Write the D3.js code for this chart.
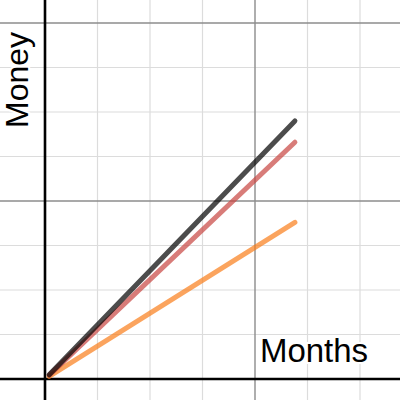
<!DOCTYPE html>
<html>
<head>
<meta charset="utf-8">
<script src="https://cdn.jsdelivr.net/npm/d3@7"></script>
<style>
  html, body { margin: 0; padding: 0; background: #fff; }
  svg { display: block; }
</style>
</head>
<body>
<div id="chart"></div>
<script>
// grid steps, in axis units (months across, money up)
const minorStep = 2.5;
const majorStep = 10;

// series: [month, money] start and end points
const blackLine = [[0.2, 0.24], [11.9, 14.5]];
const redLine = [[0.2, 0.22], [11.9, 13.3]];
const orangeLine = [[0.2, 0.15], [11.9, 8.8]];

const seriesColors = ['#000000', '#c74440', '#fa7e19'];
const xLabel = 'Months';
const yLabel = 'Money';

const width = 400;
const height = 400;

const x = d3.scaleLinear().domain([0, 10]).range([45, 255]);
const y = d3.scaleLinear().domain([0, 10]).range([379, 201]);

const svg = d3.select('#chart').append('svg')
  .attr('width', width)
  .attr('height', height);

const xTicks = d3.range(-2.5, 20, minorStep);
const yTicks = d3.range(-2.5, 25, minorStep);
let isMajor = function(v) {
  return v !== 0 && Math.abs(v % majorStep) < 1e-9;
};

// minor grid
let grid = svg.append('g').attr('class', 'grid');
grid.selectAll('line.vx')
  .data(xTicks.filter(function(v) { return v !== 0 && !isMajor(v); }))
  .enter().append('line')
  .attr('class', 'vx')
  .attr('x1', function(d) { return x(d); })
  .attr('x2', function(d) { return x(d); })
  .attr('y1', 0).attr('y2', height)
  .style('stroke', '#dcdcdc').style('stroke-width', 1.2);
grid.selectAll('line.hy')
  .data(yTicks.filter(function(v) { return v !== 0 && !isMajor(v); }))
  .enter().append('line')
  .attr('class', 'hy')
  .attr('y1', function(d) { return y(d); })
  .attr('y2', function(d) { return y(d); })
  .attr('x1', 0).attr('x2', width)
  .style('stroke', '#dcdcdc').style('stroke-width', 1.2);

// major grid
grid.selectAll('line.mx')
  .data(xTicks.filter(isMajor))
  .enter().append('line')
  .attr('class', 'mx')
  .attr('x1', function(d) { return x(d); })
  .attr('x2', function(d) { return x(d); })
  .attr('y1', 0).attr('y2', height)
  .style('stroke', '#8c8c8c').style('stroke-width', 1.4);
grid.selectAll('line.my')
  .data(yTicks.filter(isMajor))
  .enter().append('line')
  .attr('class', 'my')
  .attr('y1', function(d) { return y(d); })
  .attr('y2', function(d) { return y(d); })
  .attr('x1', 0).attr('x2', width)
  .style('stroke', '#8c8c8c').style('stroke-width', 1.4);

// axes
svg.append('line')
  .attr('x1', x(0)).attr('x2', x(0))
  .attr('y1', 0).attr('y2', height)
  .style('stroke', '#000').style('stroke-width', 2.6);
svg.append('line')
  .attr('x1', 0).attr('x2', width)
  .attr('y1', y(0)).attr('y2', y(0))
  .style('stroke', '#000').style('stroke-width', 2.6);

// series lines
const line = d3.line()
  .x(function(d) { return x(d[0]); })
  .y(function(d) { return y(d[1]); });

svg.selectAll('path.series')
  .data([orangeLine, redLine, blackLine])
  .enter().append('path')
  .attr('class', 'series')
  .attr('d', line)
  .style('fill', 'none')
  .style('stroke', function(d, i) { return [seriesColors[2], seriesColors[1], seriesColors[0]][i]; })
  .style('stroke-opacity', 0.7)
  .style('stroke-width', 5)
  .style('stroke-linecap', 'round');

// labels
svg.append('text')
  .attr('x', 314)
  .attr('y', 362)
  .attr('text-anchor', 'middle')
  .style('font-family', 'Liberation Sans, Arial, sans-serif')
  .style('font-size', '33px')
  .style('fill', '#000')
  .style('stroke', '#fff').style('stroke-width', 4)
  .style('paint-order', 'stroke')
  .text(xLabel);

svg.append('text')
  .attr('transform', 'translate(28,80) rotate(-90)')
  .attr('text-anchor', 'middle')
  .style('font-family', 'Liberation Sans, Arial, sans-serif')
  .style('font-size', '32px')
  .style('fill', '#000')
  .style('stroke', '#fff').style('stroke-width', 4)
  .style('paint-order', 'stroke')
  .text(yLabel);
</script>
</body>
</html>
